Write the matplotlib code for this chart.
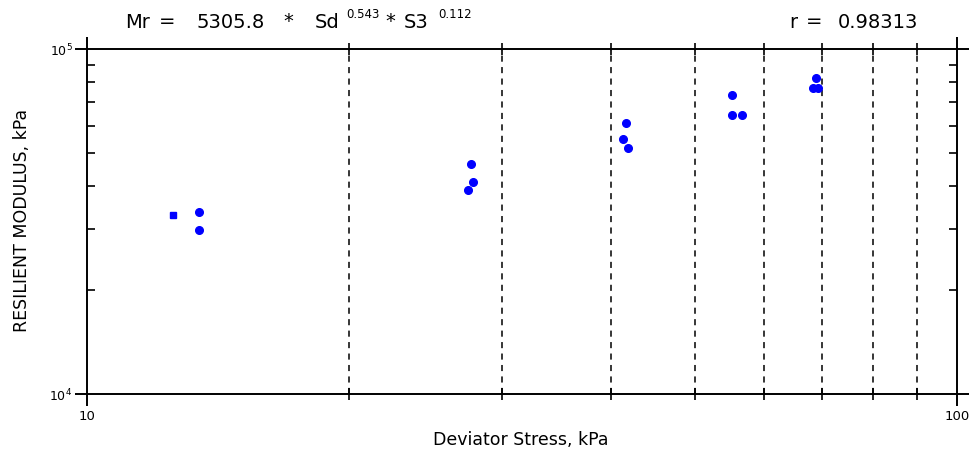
import matplotlib
matplotlib.use("Agg")
import matplotlib.pyplot as plt
from matplotlib.ticker import NullFormatter, FixedLocator

# Resilient modulus test results
deviator_stress = [12.56, 13.45, 13.45, 27.63, 27.78, 27.42, 41.65, 41.30, 41.87,
                   55.10, 55.10, 56.60, 68.80, 68.30, 69.20]
resilient_modulus = [33030, 33690, 29880, 46420, 41170, 39030, 61030, 54840, 51640,
                     73560, 64370, 64370, 82430, 77070, 77070]

x_major = [10, 100]
x_major_labels = ["10", "100"]
x_minor = [20, 30, 40, 50, 60, 70, 80, 90]
y_major = [1e4, 1e5]
y_major_labels = [r"$10^4$", r"$10^5$"]
y_minor = [2e4, 3e4, 4e4, 5e4, 6e4, 7e4, 8e4, 9e4]

W, H = 979, 457
fig = plt.figure(figsize=(W / 100, H / 100), dpi=100)
ax = fig.add_axes([87 / W, 1 - 394 / H, 870 / W, 345 / H])
ax.set_xscale("log")
ax.set_yscale("log")
ax.set_xlim(10, 100)
ax.set_ylim(1e4, 1e5)

# vertical dashed grid at minor decades
for xv in x_minor:
    ax.axvline(xv, color="black", lw=1.1, ls=(0, (4, 3.5)), zorder=1)

ax.plot(deviator_stress[:1], resilient_modulus[:1], ls="none", marker="s",
        ms=5, mfc="#0000ff", mec="#0000ff", zorder=3)
ax.plot(deviator_stress[1:], resilient_modulus[1:], ls="none", marker="o",
        ms=5.5, mfc="#0000ff", mec="#0000ff", zorder=3)

for s in ax.spines.values():
    s.set_linewidth(1.4)

ax.xaxis.set_major_locator(FixedLocator(x_major))
ax.set_xticklabels(x_major_labels)
ax.xaxis.set_minor_locator(FixedLocator(x_minor))
ax.xaxis.set_minor_formatter(NullFormatter())
ax.yaxis.set_major_locator(FixedLocator(y_major))
ax.set_yticklabels(y_major_labels)
ax.yaxis.set_minor_locator(FixedLocator(y_minor))
ax.yaxis.set_minor_formatter(NullFormatter())

ax.tick_params(axis="x", which="major", direction="out", length=8.5, width=1.4,
               top=True, bottom=True, labelsize=9.5, pad=3)
ax.tick_params(axis="x", which="minor", direction="inout", length=8.5, width=1.2,
               top=True, bottom=True)
ax.tick_params(axis="y", which="major", direction="out", length=8.5, width=1.4,
               left=True, right=True, labelsize=9, pad=2)
ax.tick_params(axis="y", which="minor", direction="in", length=5.5, width=1.2,
               left=True, right=True)

fig.text(521 / W, 1 - 440 / H, "Deviator Stress, kPa", fontsize=12.5,
         ha="center", va="center")
fig.text(22 / W, 1 - 220 / H, "RESILIENT MODULUS, kPa", fontsize=12.5,
         ha="center", va="center", rotation=90)

# regression equation and correlation coefficient, piece by piece
yt = 1 - 22 / H
ys = 1 - 14 / H
header = [
    ("Mr", 138, yt, 14), ("=", 167, yt, 14), ("5305.8", 231, yt, 14),
    ("*", 288, yt, 14), ("Sd", 327, yt, 14), ("0.543", 363, ys, 8.5),
    ("*", 390, yt, 14), ("S3", 416, yt, 14), ("0.112", 455, ys, 8.5),
    ("r", 793, yt, 14), ("=", 814, yt, 14), ("0.98313", 878, yt, 14),
]
for txt, xc, yy, fs in header:
    fig.text(xc / W, yy, txt, fontsize=fs, ha="center", va="center")

fig.savefig("out.png", dpi=100)
